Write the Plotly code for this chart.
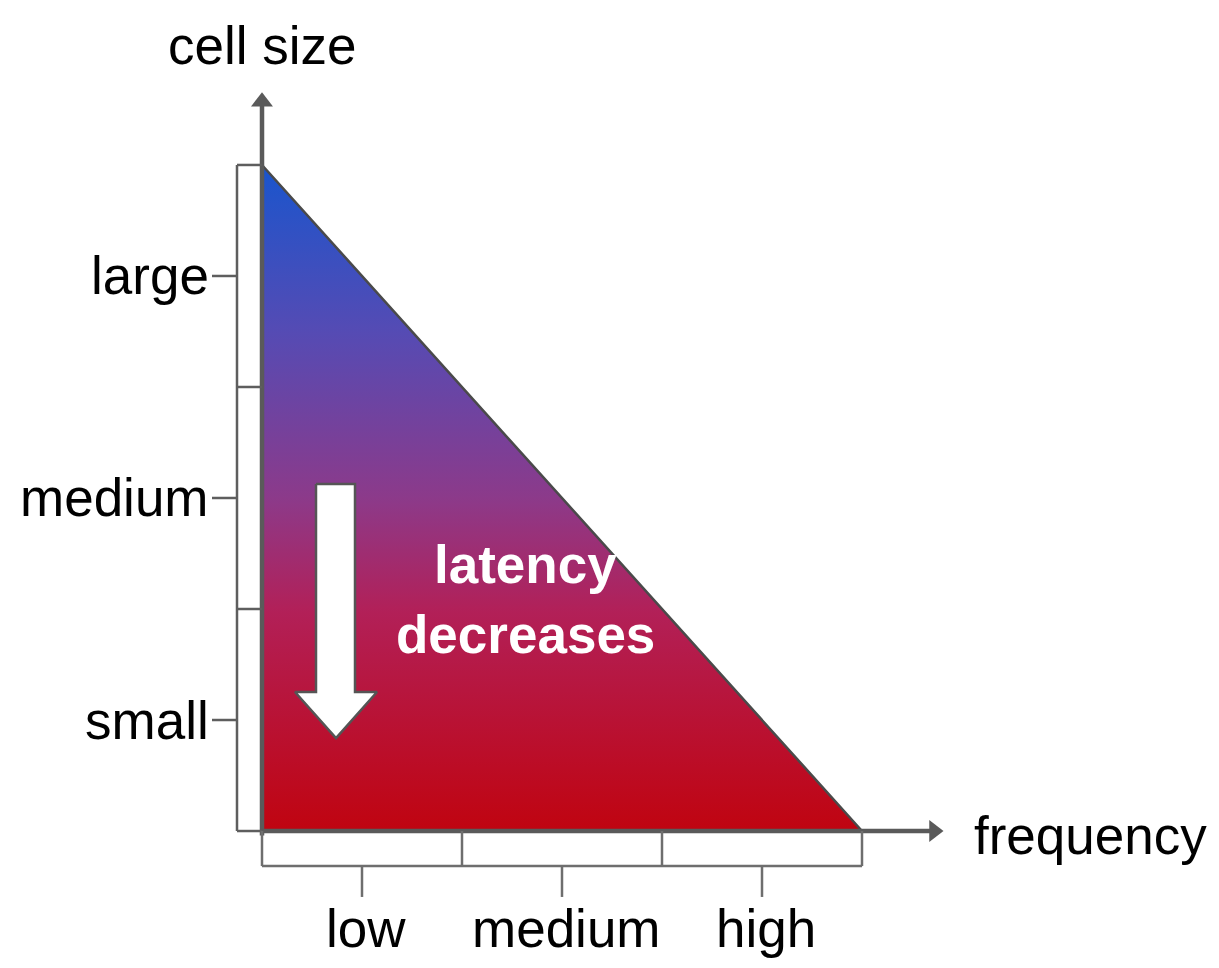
import plotly.graph_objects as go

# ---- data ----
freq_categories = ["low", "medium", "high"]
size_categories = ["small", "medium", "large"]
x_title = "frequency"
y_title = "cell size"
note_lines = ["latency", "decreases"]

n_x = len(freq_categories)
n_y = len(size_categories)

AX = "#5a5a5a"
FONT = "Liberation Sans, Arial, sans-serif"

fig = go.Figure()

# gradient triangle
fig.add_trace(go.Scatter(
    x=[0, 0, n_x, 0], y=[0, n_y, 0, 0], mode="lines",
    fill="toself",
    fillgradient=dict(type="vertical", colorscale=[
        [0.0, "rgb(192,4,16)"], [0.33, "rgb(178,32,88)"], [0.5, "rgb(140,58,138)"],
        [0.75, "rgb(85,75,180)"], [1.0, "rgb(25,85,205)"]]),
    line=dict(color="#4a4a4a", width=2.5), hoverinfo="skip", showlegend=False))

# axes with arrows
y_end = n_y + 0.33
x_end = n_x + 0.405
fig.add_trace(go.Scatter(x=[0, 0], y=[-0.02, y_end - 0.06], mode="lines",
                         line=dict(color=AX, width=4.5), hoverinfo="skip", showlegend=False))
fig.add_trace(go.Scatter(x=[0, x_end - 0.06], y=[0, 0], mode="lines",
                         line=dict(color=AX, width=4.5), hoverinfo="skip", showlegend=False))
fig.add_trace(go.Scatter(x=[0], y=[y_end - 0.045], mode="markers",
                         marker=dict(symbol="triangle-up", size=19, color=AX),
                         hoverinfo="skip", showlegend=False))
fig.add_trace(go.Scatter(x=[x_end - 0.045], y=[0], mode="markers",
                         marker=dict(symbol="triangle-right", size=19, color=AX),
                         hoverinfo="skip", showlegend=False))

# left bracket
bx = -0.125
bxs, bys = [], []
for i in range(n_y + 1):
    bxs += [0, bx, None]
    bys += [i, i, None]
bxs += [bx, bx, None]
bys += [0, n_y, None]
for i in range(n_y):
    bxs += [bx, -0.25, None]
    bys += [i + 0.5, i + 0.5, None]
fig.add_trace(go.Scatter(x=bxs, y=bys, mode="lines", line=dict(color="#5e5e5e", width=2.5),
                         hoverinfo="skip", showlegend=False))

# bottom bracket
by = -0.158
xs, ys = [], []
for i in range(n_x + 1):
    xs += [i, i, None]
    ys += [0, by, None]
xs += [0, n_x, None]
ys += [by, by, None]
for i in range(n_x):
    xs += [i + 0.5, i + 0.5, None]
    ys += [by, -0.297, None]
fig.add_trace(go.Scatter(x=xs, y=ys, mode="lines", line=dict(color="#6e6e6e", width=2.5),
                         hoverinfo="skip", showlegend=False))

# category labels
for i, lab in enumerate(size_categories):
    fig.add_annotation(x=-0.255, y=i + 0.5, text=lab, showarrow=False, xanchor="right",
                       yanchor="middle", font=dict(size=53, color="black", family=FONT))
for i, lab in enumerate(freq_categories):
    fig.add_annotation(x=i + 0.52, y=-0.44, text=lab, showarrow=False, xanchor="center",
                       yanchor="middle", font=dict(size=53, color="black", family=FONT))

# axis titles
fig.add_annotation(x=0, y=3.54, text=y_title, showarrow=False, xanchor="center",
                   yanchor="middle", font=dict(size=53, color="black", family=FONT))
fig.add_annotation(x=3.55, y=-0.02, text=x_title, showarrow=False, xanchor="left",
                   yanchor="middle", font=dict(size=53, color="black", family=FONT))

# down arrow
fig.add_trace(go.Scatter(
    x=[0.27, 0.465, 0.465, 0.575, 0.37, 0.165, 0.27, 0.27],
    y=[1.563, 1.563, 0.626, 0.626, 0.419, 0.626, 0.626, 1.563],
    mode="lines", fill="toself", fillcolor="white",
    line=dict(color="#555555", width=2.5), hoverinfo="skip", showlegend=False))

# note text
for k, line in enumerate(note_lines):
    fig.add_annotation(x=1.315, y=1.2 - k * 0.315, text="<b>%s</b>" % line, showarrow=False,
                       xanchor="center", yanchor="middle",
                       font=dict(size=53, color="white", family=FONT))

# page body adds an 8px offset; compensate in the ranges
fig.update_xaxes(range=[-1.27, 4.825], visible=False, fixedrange=True)
fig.update_yaxes(range=[-0.653, 3.707], visible=False, fixedrange=True)
fig.update_layout(width=1219, height=968, margin=dict(l=0, r=0, t=0, b=0),
                  plot_bgcolor="white", paper_bgcolor="white", showlegend=False)

fig.write_html("out.html")
